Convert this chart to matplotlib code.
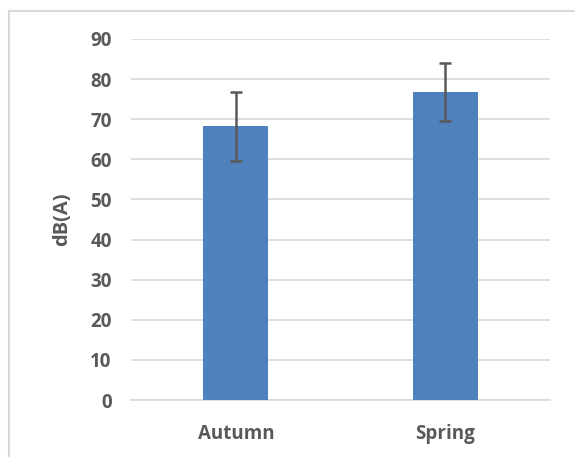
import numpy as np
import matplotlib.pyplot as plt
from matplotlib.patches import Rectangle

# data
seasons = ['Autumn', 'Spring']
mean_db = [68.2, 76.8]
err_db = [8.6, 7.2]
yticks = [0, 10, 20, 30, 40, 50, 60, 70, 80, 90]

txt = '#595959'
plt.rcParams['font.family'] = ['Open Sans', 'DejaVu Sans']

fig = plt.figure(figsize=(5.75, 4.57), dpi=100)
ax = fig.add_axes([0.228, 0.1247, 0.729, 0.79])

x = np.arange(len(seasons))
ax.bar(x, mean_db, width=0.31, color='#4f81bd', zorder=3)
ax.errorbar(x, mean_db, yerr=err_db, fmt='none', ecolor='#595959',
            elinewidth=1.8, capsize=4.5, capthick=1.8, zorder=4)

ax.set_xlim(-0.5, 1.5)
ax.set_ylim(0, 90)
ax.set_yticks(yticks)
ax.set_xticks(x)
ax.set_xticklabels(seasons)
ax.yaxis.grid(True, color='#d9d9d9', linewidth=1.2, zorder=0)
for s in ['top', 'right', 'left']:
    ax.spines[s].set_visible(False)
ax.spines['bottom'].set_color('#d9d9d9')
ax.spines['bottom'].set_linewidth(1.2)
ax.tick_params(length=0, labelsize=13.5, labelcolor=txt)
ax.tick_params(axis='y', pad=14)
ax.tick_params(axis='x', pad=17)
for lab in ax.get_xticklabels() + ax.get_yticklabels():
    lab.set_fontweight('bold')
ax.set_ylabel('dB(A)', fontsize=14.5, fontweight='bold', color=txt, labelpad=13)

# outer chart border (cut at right and bottom)
fig.patches.append(Rectangle((9 / 575, -0.1), 1.2, (457 - 11) / 457 + 0.1,
                             transform=fig.transFigure, fill=False,
                             edgecolor='#d9d9d9', linewidth=1.5))

fig.savefig('out.png', dpi=100)
